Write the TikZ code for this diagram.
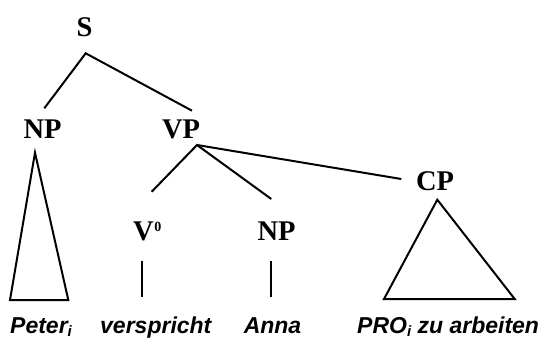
\documentclass[tikz,border=0pt]{standalone}
\usepackage{fontspec}
\setmainfont{Liberation Serif}
\newfontfamily\wordfont{Liberation Sans}[BoldItalicFont={* Bold Italic}]
\begin{document}
\begin{tikzpicture}[x=1bp,y=-1bp,
  cat/.style={inner sep=0pt,anchor=base,font=\fontsize{28.5bp}{30bp}\selectfont\bfseries},
  word/.style={inner sep=0pt,anchor=base,font=\fontsize{23bp}{24bp}\selectfont\wordfont\bfseries\itshape},
  branch/.style={line width=2bp,line cap=butt},
  tri/.style={line width=2bp,line join=miter}]
\newcommand{\idx}{\raisebox{-3bp}{\fontsize{15bp}{15bp}\selectfont i}}
\newcommand{\barlevel}{\raisebox{9bp}{\fontsize{14bp}{14bp}\selectfont 0}}
\useasboundingbox (0,0) rectangle (545,338);

% category labels
\node[cat] (S)   at (84.5,36.5) {S};
\node[cat] (NPa) at (42.5,138) {NP};
\node[cat] (VP)  at (181,138) {VP};
\node[cat,anchor=base west] (V) at (133,240) {V\kern0.5bp\barlevel};
\node[cat] (NPb) at (276.5,240) {NP};
\node[cat] (CP)  at (435,190) {CP};

% terminal strings
\node[word,anchor=base west] (peter) at (10,333) {Peter\idx};
\node[word,anchor=base west] (verb)  at (100,333) {verspricht};
\node[word] (anna) at (272.5,333) {Anna};
\node[word,anchor=base west] (pro) at (357,333) {PRO\idx\ zu arbeiten};

% branch end points
\coordinate (S-d)   at (85.7,53.3);
\coordinate (NPa-u) at (44.3,108.3);
\coordinate (VP-u)  at (192,110.7);
\coordinate (VP-d)  at (197,145);
\coordinate (V-u)   at (151.7,191.7);
\coordinate (NPb-u) at (271.3,199);
\coordinate (CP-u)  at (401.3,179);
\coordinate (V-d)   at (141.7,260.7);
\coordinate (verb-u) at (141.7,297.3);
\coordinate (NPb-d) at (271.3,261);
\coordinate (anna-u) at (271.3,297);

% NP triangle
\coordinate (NPa-t) at (35,152.7);
\coordinate (NPa-l) at (10,300);
\coordinate (NPa-r) at (68.3,300);
% CP triangle
\coordinate (CP-t) at (437.3,199.7);
\coordinate (CP-l) at (384,299);
\coordinate (CP-r) at (514.7,299);

\draw[branch] (NPa-u) -- (S-d) -- (VP-u);
\draw[branch] (V-u) -- (VP-d) -- (NPb-u);
\draw[branch] (VP-d) -- (CP-u);
\draw[branch] (V-d) -- (verb-u);
\draw[branch] (NPb-d) -- (anna-u);
\draw[tri] (NPa-t) -- (NPa-l) -- (NPa-r) -- cycle;
\draw[tri] (CP-t) -- (CP-l) -- (CP-r) -- cycle;
\end{tikzpicture}
\end{document}
